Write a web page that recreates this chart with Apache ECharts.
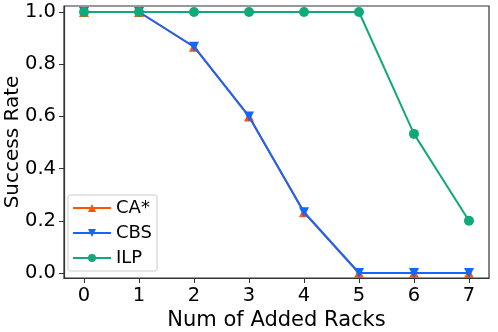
<!DOCTYPE html>
<html>
<head>
<meta charset="utf-8">
<script src="https://cdn.jsdelivr.net/npm/echarts@6/dist/echarts.min.js"></script>
<style>
  html, body { margin: 0; padding: 0; background: #fff; }
  #chart { width: 498px; height: 332px; }
</style>
</head>
<body>
<div id="chart"></div>
<script>
// data
var racks = [0, 1, 2, 3, 4, 5, 6, 7]
var caStar = [1.0, 1.0, 0.867, 0.6, 0.233, 0.0, 0.0, 0.0]
var cbs = [1.0, 1.0, 0.867, 0.6, 0.233, 0.0, 0.0, 0.0]
var ilp = [1.0, 1.0, 1.0, 1.0, 1.0, 1.0, 0.533, 0.2]
var yTicks = [0, 0.2, 0.4, 0.6, 0.8, 1.0]

function pairs(xs, ys) {
  return xs.map(function (x, i) { return [x, ys[i]] })
}

var font = 'DejaVu Sans'
var chart = echarts.init(document.getElementById('chart'))
var option = {
  animation: false,
  backgroundColor: '#fff',
  grid: {
    left: 64,
    right: 9,
    top: 6,
    bottom: 54,
    outerBoundsMode: 'none',
    containLabel: false,
    show: true,
    borderColor: '#333',
    borderWidth: 1.2
  },
  legend: {
    orient: 'vertical',
    left: 68,
    top: 195,
    itemWidth: 38,
    itemHeight: 10,
    itemGap: 7,
    padding: [4, 5, 4, 4],
    borderColor: '#ccc',
    borderWidth: 1,
    borderRadius: 2,
    backgroundColor: 'rgba(255,255,255,0.8)',
    textStyle: { fontFamily: font, fontSize: 18, color: '#000' },
    data: ['CA*', 'CBS', 'ILP']
  },
  xAxis: {
    type: 'value',
    min: -0.364,
    max: 7.364,
    name: 'Num of Added Racks',
    nameLocation: 'middle',
    nameGap: 32,
    nameMoveOverlap: false,
    nameTextStyle: { fontFamily: font, fontSize: 21, color: '#000' },
    axisLine: { show: true, onZero: false, lineStyle: { color: '#333', width: 1.2 } },
    axisTick: { show: true, length: 5, customValues: racks, lineStyle: { color: '#333' } },
    axisLabel: {
      customValues: racks,
      fontFamily: font, fontSize: 19.5, color: '#000', margin: 8
    },
    splitLine: { show: false }
  },
  yAxis: {
    type: 'value',
    min: -0.019,
    max: 1.023,
    name: 'Success Rate',
    nameLocation: 'middle',
    nameGap: 41,
    nameMoveOverlap: false,
    nameTextStyle: { fontFamily: font, fontSize: 20, color: '#000' },
    axisLine: { show: true, onZero: false, lineStyle: { color: '#333', width: 1.2 } },
    axisTick: { show: true, length: 5, customValues: yTicks, lineStyle: { color: '#333' } },
    axisLabel: {
      customValues: yTicks,
      fontFamily: font, fontSize: 19.5, color: '#000', margin: 8,
      formatter: function (v) { return v.toFixed(1) }
    },
    splitLine: { show: false }
  },
  series: [
    {
      name: 'CA*',
      type: 'line',
      data: pairs(racks, caStar),
      symbol: 'triangle',
      symbolSize: 10,
      color: '#ff5500',
      lineStyle: { width: 2 },
      z: 2
    },
    {
      name: 'CBS',
      type: 'line',
      data: pairs(racks, cbs),
      symbol: 'triangle',
      symbolRotate: 180,
      symbolSize: 10,
      color: '#1565ff',
      lineStyle: { width: 2 },
      z: 3
    },
    {
      name: 'ILP',
      type: 'line',
      data: pairs(racks, ilp),
      symbol: 'circle',
      symbolSize: 10,
      color: '#12a97a',
      lineStyle: { width: 2 },
      z: 4
    }
  ]
}
chart.setOption(option)
</script>
</body>
</html>
